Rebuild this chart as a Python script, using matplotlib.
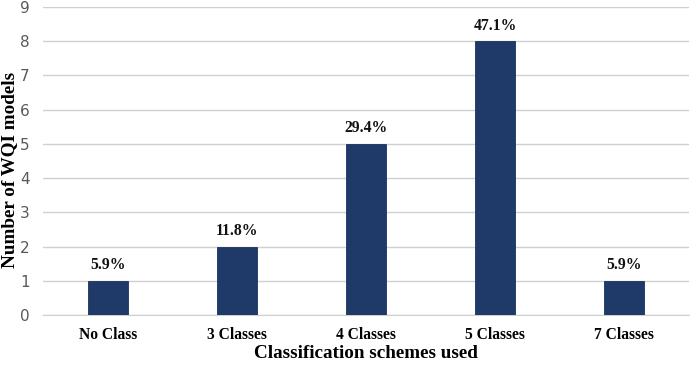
import matplotlib
matplotlib.use("Agg")
import matplotlib.pyplot as plt
import numpy as np

# data
categories = ["No Class", "3 Classes", "4 Classes", "5 Classes", "7 Classes"]
counts = [1, 2, 5, 8, 1]
pct_labels = ["5.9%", "11.8%", "29.4%", "47.1%", "5.9%"]

fig = plt.figure(figsize=(6.9, 3.65), dpi=100)
ax = fig.add_axes([0.063, 0.137, 0.935, 0.844])

x = np.arange(len(categories))
bars = ax.bar(x, counts, width=0.31, color="#1f3a68", edgecolor="#1a3260", linewidth=0.6, zorder=3)

for b, lab in zip(bars, pct_labels):
    ax.text(b.get_x() + b.get_width() / 2, b.get_height() + 0.22, lab,
            ha="center", va="bottom", fontsize=11.3, fontweight="bold",
            family="Liberation Serif", color="#111111")

ax.set_xlim(-0.5, len(categories) - 0.5)
ax.set_ylim(0, 9)
ax.set_yticks(range(0, 10))
ax.yaxis.grid(True, color="#d0d0d0", linewidth=1, zorder=0)
for s in ["top", "right", "left"]:
    ax.spines[s].set_visible(False)
ax.spines["bottom"].set_color("#d0d0d0")
ax.tick_params(axis="both", length=0)
ax.tick_params(axis="y", labelsize=11, labelcolor="#595959", pad=10)
ax.set_xticks(x)
ax.set_xticklabels(categories, fontsize=11.2, fontweight="bold", family="Liberation Serif")
ax.tick_params(axis="x", pad=9)

ax.set_xlabel("Classification schemes used", fontsize=13.8, fontweight="bold",
              family="Liberation Serif", labelpad=1)
ax.set_ylabel("Number of WQI models", fontsize=13.8, fontweight="bold",
              family="Liberation Serif", labelpad=1)
ax.yaxis.label.set_y(0.47)

fig.savefig("out.png", dpi=100)
